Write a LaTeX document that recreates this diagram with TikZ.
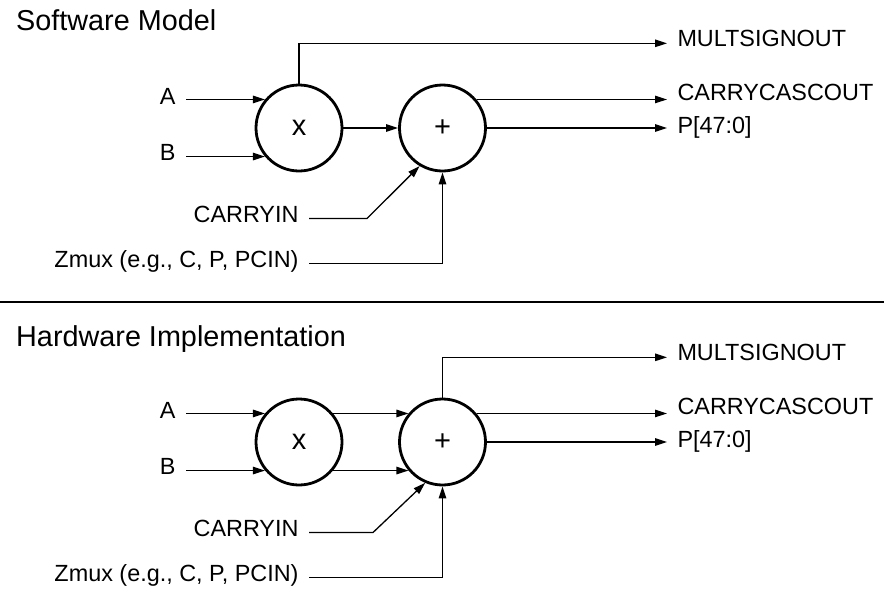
\documentclass[tikz,border=0pt]{standalone}
\usepackage{fontspec}
\setmainfont{Liberation Sans}
\usetikzlibrary{arrows.meta, positioning}

\begin{document}
\begin{tikzpicture}[
    x=1pt, y=-1pt,
    op/.style={circle, draw, line width=2.8pt, minimum size=86pt, inner sep=0pt,
               font=\fontsize{29}{32}\selectfont},
    lbl/.style={inner xsep=10.5pt, inner ysep=0pt, outer sep=0pt, text height=0.72em, text depth=0pt,
                font=\fontsize{23.4}{28}\selectfont},
    title/.style={anchor=base west, inner sep=0pt, font=\fontsize{28.8}{34}\selectfont},
    sig/.style={-{Triangle[length=12pt, width=7.5pt]}, line width=1.3pt}
]
\useasboundingbox (0,0) rectangle (884,592);

% --- Software Model ---
\node[title] (sw) at (16,30) {Software Model};
\node[op] (mul1) at (299,128) {x};
\node[op] (add1) at (442.5,128) {+};
\node[lbl, anchor=east] (a1) at (186,100.5) {A};
\node[lbl, anchor=east] (b1) at (186,157) {B};
\node[lbl, anchor=east] (cin1) at (309,218.5) {CARRYIN};
\node[lbl, anchor=east] (zmux1) at (309,263.5) {Zmux (e.g., C, P, PCIN)};
\node[lbl, anchor=west] (msout1) at (667,43.3) {MULTSIGNOUT};
\node[lbl, anchor=west] (ccout1) at (667,97) {CARRYCASCOUT};
\node[lbl, anchor=west] (pout1) at (667,130) {P[47:0]};

\draw[sig] (a1.east |- mul1.140) -- (mul1.140);
\draw[sig] (b1.east |- mul1.220) -- (mul1.220);
\draw[sig] (mul1.east) -- (add1.west);
\draw[sig] (mul1.north) |- (msout1.west);
\draw[sig] (add1.40) -- (add1.40 -| ccout1.west);
\draw[sig] (add1.east) -- (add1.east -| pout1.west);
\draw[sig] (cin1.east) -- ++(58,0) -- (add1.239);
\draw[sig] (zmux1.east) -| (add1.south);

% --- Trennlinie ---
\draw[line width=1.4pt] (0,302) -- (884,302);

% --- Hardware Implementation ---
\node[title] (hw) at (16,346) {Hardware Implementation};
\node[op] (mul2) at (299,442) {x};
\node[op] (add2) at (442.5,442) {+};
\node[lbl, anchor=east] (a2) at (186,414.5) {A};
\node[lbl, anchor=east] (b2) at (186,471) {B};
\node[lbl, anchor=east] (cin2) at (309,532.5) {CARRYIN};
\node[lbl, anchor=east] (zmux2) at (309,577.5) {Zmux (e.g., C, P, PCIN)};
\node[lbl, anchor=west] (msout2) at (667,357.3) {MULTSIGNOUT};
\node[lbl, anchor=west] (ccout2) at (667,411) {CARRYCASCOUT};
\node[lbl, anchor=west] (pout2) at (667,444) {P[47:0]};

\draw[sig] (a2.east |- mul2.140) -- (mul2.140);
\draw[sig] (b2.east |- mul2.220) -- (mul2.220);
\draw[sig] (mul2.40) -- (add2.140);
\draw[sig] (mul2.320) -- (add2.220);
\draw[sig] (add2.north) |- (msout2.west);
\draw[sig] (add2.40) -- (add2.40 -| ccout2.west);
\draw[sig] (add2.east) -- (add2.east -| pout2.west);
\draw[sig] (cin2.east) -- ++(64,0) -- (add2.247);
\draw[sig] (zmux2.east) -| (add2.south);

\end{tikzpicture}
\end{document}
